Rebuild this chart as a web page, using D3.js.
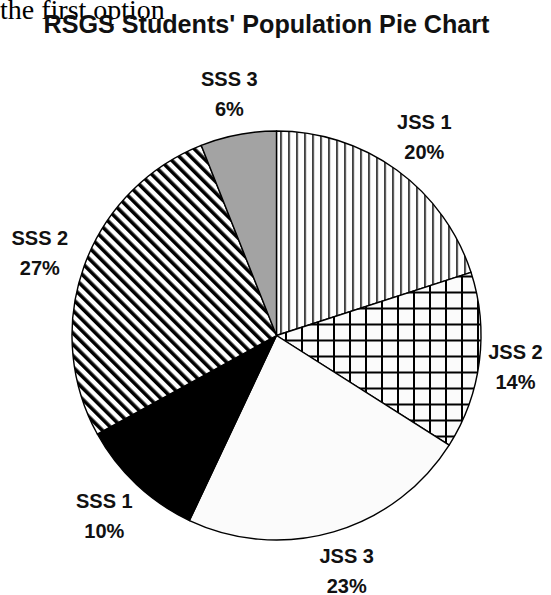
<!DOCTYPE html>
<html>
<head>
<meta charset="utf-8">
<script src="https://cdn.jsdelivr.net/npm/d3@7"></script>
<style>
  html, body { margin: 0; padding: 0; background: #ffffff; }
  svg { display: block; }
</style>
</head>
<body>
<svg id="chart" width="551" height="595"></svg>
<script>
// ---- data ----
const categories = ["JSS 1", "JSS 2", "JSS 3", "SSS 1", "SSS 2", "SSS 3"];
const values = [20, 14, 23, 10, 27, 6];
const percentLabels = ["20%", "14%", "23%", "10%", "27%", "6%"];
const fills = ["url(#vlines)", "url(#cross)", "#fbfbfb", "#000000", "url(#diag)", "#a3a3a3"];
const titleText = "RSGS Students' Population Pie Chart";
const overlayText = "the first option";

// ---- layout ----
const W = 551, H = 595;
const cx = 276.5, cy = 335.5, R = 204.5;
const labelR = 224, boxW = 55, boxH = 45;

const svg = d3.select("#chart");
svg.append("rect").attr("width", W).attr("height", H).attr("fill", "#ffffff");

const defs = svg.append("defs");
// vertical lines
const pv = defs.append("pattern").attr("id", "vlines")
  .attr("patternUnits", "userSpaceOnUse").attr("width", 8).attr("height", 8)
  .attr("x", cx - 0.75);
pv.append("rect").attr("width", 8).attr("height", 8).attr("fill", "#ffffff");
pv.append("rect").attr("x", 0).attr("width", 1.5).attr("height", 8).attr("fill", "#000");
// crosshatch grid
const pc = defs.append("pattern").attr("id", "cross")
  .attr("patternUnits", "userSpaceOnUse").attr("width", 16).attr("height", 16)
  .attr("x", cx + 4).attr("y", 4);
pc.append("rect").attr("width", 16).attr("height", 16).attr("fill", "#fbfbfb");
pc.append("rect").attr("x", 0).attr("width", 2).attr("height", 16).attr("fill", "#000");
pc.append("rect").attr("y", 0).attr("width", 16).attr("height", 2).attr("fill", "#000");
// wide downward diagonal
const pd = defs.append("pattern").attr("id", "diag")
  .attr("patternUnits", "userSpaceOnUse").attr("width", 8).attr("height", 8)
  .attr("patternTransform", "rotate(-45)");
pd.append("rect").attr("width", 8).attr("height", 8).attr("fill", "#ffffff");
pd.append("rect").attr("x", 0).attr("width", 3.6).attr("height", 8).attr("fill", "#000");

// ---- overlay text (top-left) ----
svg.append("text")
  .attr("x", 0).attr("y", 19)
  .attr("font-family", "'Liberation Serif', 'Times New Roman', serif")
  .attr("font-size", 28)
  .attr("fill", "#000")
  .text(overlayText);

// ---- title ----
svg.append("text")
  .attr("x", 266.5).attr("y", 33)
  .attr("text-anchor", "middle")
  .attr("font-family", "'Liberation Sans', Arial, sans-serif")
  .attr("font-weight", "bold")
  .attr("font-size", 25)
  .attr("fill", "#111")
  .attr("textLength", 446)
  .attr("lengthAdjust", "spacingAndGlyphs")
  .text(titleText);

// ---- pie ----
const data = categories.map((c, i) => ({ cat: c, value: values[i], pct: percentLabels[i], fill: fills[i] }));
const pie = d3.pie().value(d => d.value).sort(null).startAngle(0).endAngle(2 * Math.PI);
const arcs = pie(data);
const arc = d3.arc().innerRadius(0).outerRadius(R);

const g = svg.append("g").attr("transform", `translate(${cx},${cy})`);
g.selectAll("path.slice").data(arcs).join("path")
  .attr("class", "slice")
  .attr("d", arc)
  .attr("fill", d => d.data.fill)
  .attr("stroke", "#000")
  .attr("stroke-width", 1.4)
  .attr("stroke-linejoin", "round");

// ---- labels ----
const lab = g.selectAll("g.lab").data(arcs).join("g").attr("class", "lab");
lab.each(function (d) {
  const a = (d.startAngle + d.endAngle) / 2;
  const s = Math.sin(a), c = -Math.cos(a);
  let bx = labelR * s + s * boxW / 2;
  let by = labelR * c + c * boxH / 2;
  // keep box inside the picture
  bx = Math.max(-cx + boxW / 2 + 4, Math.min(W - cx - boxW / 2 - 8, bx));
  by = Math.min(H - cy - 25, by);
  const sel = d3.select(this);
  sel.append("text")
    .attr("x", bx).attr("y", by - 7.5)
    .attr("text-anchor", "middle")
    .attr("font-family", "'Liberation Sans', Arial, sans-serif")
    .attr("font-weight", "bold").attr("font-size", 20).attr("fill", "#111")
    .text(d.data.cat);
  sel.append("text")
    .attr("x", bx).attr("y", by + 22.5)
    .attr("text-anchor", "middle")
    .attr("font-family", "'Liberation Sans', Arial, sans-serif")
    .attr("font-weight", "bold").attr("font-size", 20).attr("fill", "#111")
    .text(d.data.pct);
});
</script>
</body>
</html>
